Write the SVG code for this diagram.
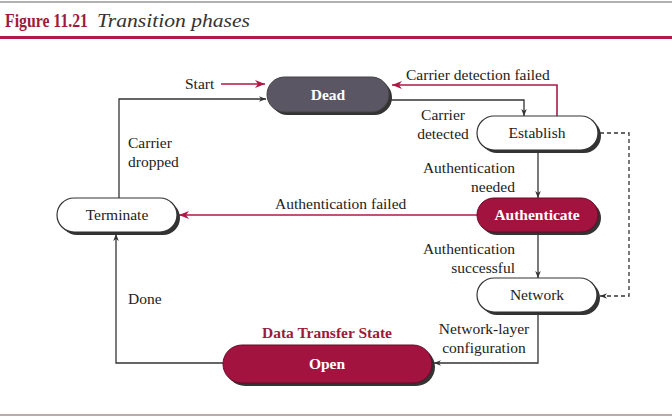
<svg xmlns="http://www.w3.org/2000/svg" width="672" height="420" viewBox="0 0 672 420">
<defs>
<style>
text{font-family:"Liberation Serif","Times New Roman",serif;font-size:15.5px;fill:#222}
.w{fill:#fff;font-weight:bold}
.c{stroke:#333;stroke-width:1.3;fill:none}
.r{stroke:#b01846;stroke-width:1.6;fill:none}
.d{stroke:#333;stroke-width:1.3;fill:none;stroke-dasharray:4 3}
.sh{fill:#333}
.wn{fill:#fff;stroke:#333;stroke-width:1.2}
</style>
<marker id="ak" viewBox="0 0 10 10" refX="10" refY="5" markerWidth="7" markerHeight="7" orient="auto" markerUnits="userSpaceOnUse"><path d="M0,1 L10,5 L0,9 L3,5 z" fill="#333"/></marker>
<marker id="ar" viewBox="0 0 10 10" refX="10" refY="5" markerWidth="10" markerHeight="10" orient="auto" markerUnits="userSpaceOnUse"><path d="M0,1 L10,5 L0,9 L3,5 z" fill="#b01846"/></marker>
</defs>
<rect width="672" height="420" fill="#fff"/>
<line x1="0" y1="2" x2="672" y2="2" stroke="#999" stroke-width="1.5"/>
<text x="5" y="27" textLength="83" lengthAdjust="spacingAndGlyphs" style="font-size:19px;font-weight:bold;fill:#9c1a3c">Figure 11.21</text>
<text x="97" y="27" textLength="153" lengthAdjust="spacingAndGlyphs" style="font-size:19px;font-style:italic;fill:#333">Transition phases</text>
<line x1="0" y1="37.5" x2="672" y2="37.5" stroke="#b5184a" stroke-width="3"/>
<line x1="0" y1="415" x2="672" y2="415" stroke="#a09090" stroke-width="1.5"/>

<g id="connectors">
<text x="185" y="89">Start</text>
<line class="r" x1="221" y1="84" x2="265" y2="84" marker-end="url(#ar)"/>
<polyline class="c" points="119,198 119,99 266,99" marker-end="url(#ak)"/>
<text x="128" y="148">Carrier</text>
<text x="128" y="167">dropped</text>
<polyline class="c" points="390,100 524,100 524,116" marker-end="url(#ak)"/>
<polyline class="r" points="557,116 557,85 392,85" marker-end="url(#ar)"/>
<text x="406" y="80">Carrier detection failed</text>
<text x="443" y="120" text-anchor="middle">Carrier</text>
<text x="443" y="139" text-anchor="middle">detected</text>
<line class="c" x1="538" y1="150" x2="538" y2="198" marker-end="url(#ak)"/>
<text x="515" y="173" text-anchor="end">Authentication</text>
<text x="515" y="192" text-anchor="end">needed</text>
<line class="r" x1="477" y1="215" x2="179" y2="215" marker-end="url(#ar)"/>
<text x="275" y="209">Authentication failed</text>
<line class="c" x1="538" y1="233" x2="538" y2="278" marker-end="url(#ak)"/>
<text x="515" y="254" text-anchor="end">Authentication</text>
<text x="515" y="273" text-anchor="end">successful</text>
<polyline class="d" points="600,133 629,133 629,296 600,296" marker-end="url(#ak)"/>
<polyline class="c" points="538,313 538,363 434,363" marker-end="url(#ak)"/>
<text x="484" y="334" text-anchor="middle">Network-layer</text>
<text x="484" y="353" text-anchor="middle">configuration</text>
<polyline class="c" points="223,363 116,363 116,234" marker-end="url(#ak)"/>
<text x="128" y="304">Done</text>
</g>

<g id="dead">
<rect class="sh" x="270" y="80" width="122" height="35" rx="17.5"/>
<rect x="267" y="77" width="122" height="35" rx="17.5" fill="#5b5663" stroke="#444" stroke-width="1"/>
<text class="w" x="328" y="100" text-anchor="middle">Dead</text>
</g>
<g id="establish">
<rect class="sh" x="480" y="119" width="121" height="34" rx="17"/>
<rect class="wn" x="477" y="116" width="121" height="34" rx="17"/>
<text x="537" y="138" text-anchor="middle">Establish</text>
</g>
<g id="authenticate">
<rect class="sh" x="480" y="201" width="121" height="34" rx="17"/>
<rect x="477" y="198" width="121" height="34" rx="17" fill="#a3133f" stroke="#6a0a28" stroke-width="1"/>
<text class="w" x="537" y="220" text-anchor="middle">Authenticate</text>
</g>
<g id="terminate">
<rect class="sh" x="60" y="201" width="120" height="34" rx="17"/>
<rect class="wn" x="57" y="198" width="120" height="34" rx="17"/>
<text x="117" y="220" text-anchor="middle">Terminate</text>
</g>
<g id="network">
<rect class="sh" x="480" y="281" width="120" height="34" rx="17"/>
<rect class="wn" x="477" y="278" width="120" height="34" rx="17"/>
<text x="537" y="300" text-anchor="middle">Network</text>
</g>
<g id="open">
<text x="327" y="338" text-anchor="middle" style="font-weight:bold;fill:#9c1a3c">Data Transfer State</text>
<rect class="sh" x="226" y="348" width="209" height="38" rx="19"/>
<rect x="223" y="345" width="209" height="38" rx="19" fill="#a3133f" stroke="#6a0a28" stroke-width="1"/>
<text class="w" x="327" y="369" text-anchor="middle">Open</text>
</g>
</svg>
